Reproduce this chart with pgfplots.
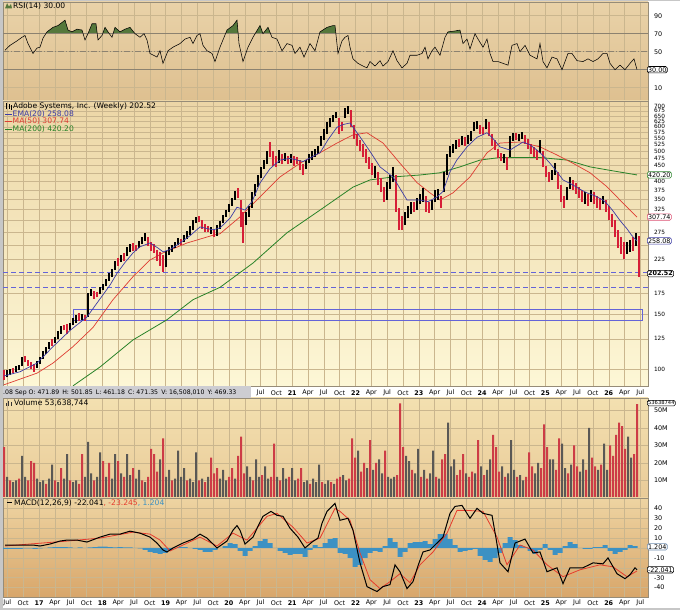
\documentclass[border=0pt]{standalone}
\usepackage{pgfplots}
\pgfplotsset{compat=1.18}
\usepackage{fontspec}
\setmainfont{DejaVu Sans}
\definecolor{gridc}{RGB}{202,182,142}
\definecolor{framec}{RGB}{150,140,120}
\definecolor{pxred}{RGB}{214,30,55}
\definecolor{emac}{RGB}{60,60,165}
\definecolor{ma50c}{RGB}{222,60,50}
\definecolor{ma200c}{RGB}{40,130,40}
\definecolor{lvl}{RGB}{100,100,215}
\definecolor{volred}{RGB}{205,60,70}
\definecolor{volgray}{RGB}{90,88,85}
\definecolor{rsigreen}{RGB}{85,120,60}
\definecolor{histc}{RGB}{60,145,195}
\definecolor{sigc}{RGB}{230,60,45}
\definecolor{infobg}{RGB}{205,205,210}
\definecolor{rsiline}{RGB}{140,130,112}
\definecolor{pinkc}{RGB}{220,80,115}
\newcommand\tlf{\fontsize{6.4}{7}\selectfont}
\newcommand\lgf{\fontsize{7.6}{9}\selectfont}

% ---------- price bars (x = date index, low, high) ----------
\def\pricedata{%
\pR{4}{92}{99}\pK{7}{94}{99}\pK{10}{96}{100}\pR{13}{97}{101}\pK{16}{98}{102}\pK{19}{99}{103}
\pK{22}{102}{109}\pR{25}{105}{110}\pR{28}{102}{107}\pR{31}{100}{105}\pR{34}{98}{104}\pK{37}{101}{106}
\pK{40}{104}{109}\pK{43}{108}{114}\pK{46}{112}{118}\pK{49}{116}{122}\pR{52}{119}{125}\pK{55}{121}{127}
\pK{58}{125}{132}\pK{61}{130}{137}\pR{64}{133}{139}\pR{67}{130}{140}\pK{70}{133}{141}\pK{73}{138}{146}
\pK{76}{141}{149}\pR{79}{143}{151}\pK{82}{144}{150}\pR{85}{143}{149}\pK{88}{147}{176}\pK{91}{172}{181}
\pR{94}{168}{178}\pR{97}{170}{177}\pK{100}{174}{184}\pK{103}{180}{188}\pK{106}{185}{194}\pK{109}{192}{203}
\pK{112}{198}{210}\pK{115}{208}{222}\pR{118}{215}{228}\pK{121}{220}{232}\pR{124}{222}{236}\pK{127}{230}{246}
\pK{130}{238}{252}\pR{133}{240}{254}\pR{136}{240}{250}\pK{139}{245}{258}\pK{142}{252}{266}\pK{145}{258}{274}
\pR{148}{248}{266}\pR{151}{240}{256}\pR{154}{236}{252}\pR{157}{222}{242}\pR{160}{215}{238}\pR{163}{205}{232}
\pK{166}{212}{240}\pK{169}{232}{246}\pK{172}{238}{250}\pK{175}{244}{256}\pK{178}{250}{264}\pR{181}{250}{262}
\pK{184}{256}{270}\pK{187}{262}{277}\pK{190}{270}{288}\pK{193}{280}{300}\pK{196}{295}{308}\pR{199}{296}{310}
\pR{202}{282}{300}\pR{205}{276}{292}\pR{208}{275}{288}\pK{211}{272}{285}\pR{214}{265}{280}\pK{217}{268}{290}
\pK{220}{282}{298}\pK{223}{295}{312}\pK{226}{308}{325}\pK{229}{320}{340}\pK{232}{335}{355}\pK{235}{350}{372}
\pR{238}{355}{381}\pR{241}{285}{350}\pR{243}{254}{320}\pK{246}{290}{320}\pK{249}{308}{335}\pK{252}{330}{370}
\pK{255}{360}{392}\pK{258}{385}{420}\pK{261}{410}{445}\pK{264}{440}{470}\pK{267}{455}{500}\pR{270}{480}{535}
\pR{273}{450}{500}\pR{276}{445}{485}\pK{279}{460}{505}\pR{282}{455}{490}\pK{285}{465}{495}\pR{288}{455}{485}
\pK{291}{460}{490}\pR{294}{450}{485}\pR{297}{455}{480}\pR{300}{435}{470}\pR{303}{420}{455}\pK{306}{440}{470}
\pK{309}{460}{490}\pK{312}{470}{500}\pK{315}{480}{510}\pK{318}{490}{520}\pK{321}{520}{560}\pK{324}{545}{590}
\pK{327}{570}{620}\pK{330}{600}{640}\pK{333}{620}{655}\pK{336}{640}{668}\pR{339}{570}{640}\pR{342}{580}{620}
\pK{345}{640}{690}\pK{348}{660}{700}\pR{351}{600}{680}\pR{354}{550}{610}\pR{357}{520}{570}\pR{360}{500}{545}
\pR{363}{480}{530}\pR{366}{460}{510}\pR{369}{440}{480}\pR{372}{420}{460}\pK{375}{410}{450}\pR{378}{390}{430}
\pR{381}{370}{410}\pR{384}{345}{385}\pK{387}{350}{400}\pK{390}{380}{420}\pK{393}{400}{446}\pR{396}{320}{420}
\pR{399}{280}{330}\pR{402}{280}{310}\pK{405}{290}{320}\pK{408}{305}{335}\pK{411}{315}{345}\pR{414}{320}{345}
\pK{417}{325}{355}\pK{420}{340}{365}\pK{423}{345}{381}\pR{426}{320}{360}\pR{429}{318}{345}\pK{432}{325}{350}
\pK{435}{345}{375}\pK{438}{350}{380}\pR{441}{330}{360}\pK{444}{370}{430}\pK{447}{420}{490}\pK{450}{480}{520}
\pK{453}{495}{530}\pK{456}{510}{545}\pR{459}{515}{550}\pK{462}{525}{560}\pR{465}{520}{555}\pK{468}{530}{565}
\pK{471}{540}{580}\pK{474}{580}{620}\pK{477}{590}{625}\pR{480}{570}{610}\pR{483}{565}{600}\pK{486}{590}{635}
\pR{489}{560}{620}\pR{492}{520}{570}\pR{495}{505}{545}\pR{498}{475}{510}\pR{501}{465}{495}\pK{504}{460}{490}
\pR{507}{436}{480}\pK{510}{480}{560}\pK{513}{540}{575}\pR{516}{545}{572}\pK{519}{540}{570}\pK{522}{550}{578}
\pR{525}{530}{565}\pR{528}{510}{550}\pR{531}{490}{530}\pR{534}{480}{515}\pR{537}{470}{505}\pK{540}{495}{545}
\pR{543}{445}{500}\pR{546}{415}{450}\pR{549}{400}{430}\pK{552}{405}{435}\pK{555}{420}{460}\pR{558}{380}{430}
\pR{561}{345}{390}\pR{564}{330}{360}\pK{567}{350}{385}\pK{570}{380}{415}\pR{573}{375}{405}\pR{576}{365}{395}
\pR{579}{355}{385}\pR{582}{345}{375}\pK{585}{340}{370}\pR{588}{335}{365}\pK{591}{345}{375}\pR{594}{340}{370}
\pR{597}{330}{360}\pR{600}{325}{355}\pK{603}{340}{360}\pR{606}{320}{350}\pR{609}{300}{335}\pR{612}{285}{315}
\pR{615}{265}{300}\pR{618}{245}{280}\pR{621}{235}{265}\pR{624}{225}{255}\pK{627}{235}{255}\pK{630}{238}{260}
\pR{633}{240}{265}\pK{636}{248}{274}\pR{638.5}{198}{268}}

% ---------- weekly volume, millions ----------
\def\voldata{%
\vR{4}{29}\vK{7}{12}\vR{10}{10}\vK{13}{9}\vK{16}{10}\vR{19}{11}\vK{22}{24}\vK{25}{12}\vR{28}{10}\vR{31}{21}
\vR{34}{20}\vK{37}{11}\vK{40}{9}\vK{43}{10}\vR{46}{8}\vK{49}{11}\vK{52}{19}\vR{55}{10}\vK{58}{9}\vR{61}{17}
\vK{64}{11}\vK{67}{25}\vR{70}{10}\vK{73}{9}\vK{76}{10}\vR{79}{8}\vR{82}{25}\vK{85}{12}\vK{88}{32}\vK{91}{14}
\vR{94}{10}\vK{97}{12}\vK{100}{26}\vR{103}{21}\vK{106}{12}\vR{109}{20}\vK{112}{11}\vK{115}{25}\vR{118}{21}\vK{121}{14}
\vR{124}{12}\vK{127}{25}\vK{130}{13}\vR{133}{17}\vK{136}{11}\vK{139}{16}\vR{142}{10}\vK{145}{9}\vR{148}{12}\vR{151}{28}
\vR{154}{25}\vR{157}{15}\vK{160}{22}\vR{163}{34}\vK{166}{12}\vK{169}{16}\vR{172}{10}\vK{175}{11}\vK{178}{27}\vK{181}{12}
\vK{184}{17}\vR{187}{10}\vK{190}{11}\vK{193}{9}\vK{196}{26}\vR{199}{10}\vK{202}{11}\vR{205}{9}\vK{208}{12}\vR{211}{23}
\vR{214}{14}\vR{217}{17}\vK{220}{11}\vK{223}{16}\vK{226}{10}\vR{229}{12}\vR{232}{17}\vK{235}{11}\vR{238}{24}\vR{241}{35}
\vR{244}{14}\vK{247}{18}\vK{250}{12}\vR{253}{10}\vK{256}{22}\vK{259}{12}\vR{262}{13}\vK{265}{18}\vK{268}{11}\vR{271}{12}
\vR{274}{31}\vK{277}{12}\vR{280}{10}\vK{283}{17}\vK{286}{11}\vR{289}{12}\vK{292}{17}\vK{295}{10}\vR{298}{11}\vR{301}{17}
\vK{304}{9}\vK{307}{10}\vR{310}{8}\vK{313}{11}\vK{316}{9}\vK{319}{19}\vR{322}{9}\vK{325}{8}\vK{328}{10}\vR{331}{9}
\vK{334}{8}\vR{337}{11}\vR{340}{12}\vK{343}{13}\vK{346}{10}\vR{349}{11}\vR{352}{34}\vR{355}{23}\vK{358}{27}\vR{361}{15}
\vR{364}{20}\vK{367}{17}\vR{370}{33}\vK{373}{16}\vR{376}{20}\vK{379}{22}\vK{382}{14}\vR{385}{27}\vK{388}{12}\vK{391}{11}
\vK{394}{12}\vR{397}{13}\vR{400}{54}\vR{403}{29}\vK{406}{24}\vK{409}{21}\vR{412}{16}\vK{415}{14}\vK{418}{28}\vR{421}{12}
\vK{424}{16}\vR{427}{11}\vK{430}{14}\vK{433}{27}\vR{436}{12}\vK{439}{11}\vR{442}{22}\vR{445}{25}\vK{448}{43}\vK{451}{18}
\vK{454}{22}\vR{457}{13}\vR{460}{16}\vR{463}{25}\vK{466}{14}\vR{469}{12}\vR{472}{15}\vK{475}{14}\vR{478}{33}\vK{481}{18}
\vR{484}{13}\vK{487}{16}\vK{490}{22}\vR{493}{36}\vR{496}{29}\vR{499}{15}\vK{502}{18}\vR{505}{12}\vK{508}{14}\vK{511}{33}
\vK{514}{16}\vR{517}{12}\vK{520}{13}\vK{523}{10}\vR{526}{12}\vR{529}{26}\vR{532}{18}\vK{535}{14}\vK{538}{20}\vR{541}{17}
\vR{544}{42}\vR{547}{29}\vK{550}{22}\vK{553}{22}\vR{556}{16}\vR{559}{34}\vK{562}{31}\vK{565}{17}\vR{568}{14}\vK{571}{19}
\vR{574}{30}\vR{577}{18}\vK{580}{15}\vK{583}{22}\vR{586}{16}\vK{589}{40}\vR{592}{23}\vR{595}{18}\vK{598}{16}\vR{601}{19}
\vK{604}{31}\vK{607}{16}\vR{610}{30}\vR{613}{24}\vR{616}{36}\vR{619}{43}\vR{622}{41}\vR{625}{28}\vK{628}{35}\vK{631}{23}
\vR{634}{25}\vR{637}{53.6}}
\def\vK#1#2{(#1,#2)}\def\vR#1#2{}
\edef\grayvol{\voldata}
\def\vK#1#2{}\def\vR#1#2{(#1,#2)}
\edef\redvol{\voldata}

% ---------- weekly RSI(14) ----------
\def\rsidata{(5,51.5)(10,57)(17,62)(22,66)(25,68)(28,59)(33,48)(37,54)(40,55)(43,65)(47,72)(53,77)(58,79)(65,85)(68,74)(72,72)(77,75)(82,74)(85,63)(88,70)(92,81)(96,81)(98,63)(102,68)(105,77)(108,72)(112,66)(115,77)(120,72)(125,75)(130,77)(135,70)(140,66)(144,70)(147,63)(150,48)(157,44)(160,51)(163,37)(168,51)(173,55)(180,59)(185,64)(190,66)(193,59)(197,68)(200,70)(203,57)(207,51)(212,48)(215,39)(220,55)(227,74)(233,79)(237,85)(239,59)(243,39)(248,55)(253,66)(260,79)(263,70)(268,77)(272,66)(277,64)(282,51)(287,59)(292,57)(295,48)(300,55)(304,44)(310,59)(315,51)(320,72)(327,77)(333,79)(335,79)(338,48)(342,62)(345,66)(348,68)(350,55)(353,42)(358,37)(363,34)(367,32)(370,39)(375,34)(380,40)(383,34)(388,39)(393,51)(397,40)(402,32)(407,37)(410,46)(417,46)(422,48)(425,55)(428,42)(432,51)(435,55)(440,46)(445,66)(448,72)(455,73)(460,74)(463,59)(467,64)(470,53)(475,70)(478,64)(483,55)(487,64)(490,48)(493,39)(498,39)(503,37)(508,35)(512,57)(517,59)(520,50)(525,57)(530,46)(537,42)(540,59)(543,39)(547,32)(552,44)(557,42)(562,30)(568,48)(572,48)(577,40)(583,39)(588,42)(593,39)(598,42)(603,48)(607,48)(610,37)(615,30)(620,35)(625,30)(630,37)(634,42)(637,30)}

\pgfplotsset{
 panel/.style={scale only axis, width=645pt, xmin=3, xmax=648,
   axis line style={draw=framec, line width=0.5pt},
   xtick={7.35,23.18,39,54.83,70.65,86.48,102.3,118.13,133.95,149.78,165.6,181.43,197.25,213.08,228.9,244.73,260.55,276.38,292.2,308.03,323.85,339.68,355.5,371.33,387.15,402.98,418.8,434.63,450.45,466.28,482.1,497.93,513.75,529.58,545.4,561.23,577.05,592.88,608.7,624.53,640.35},
   xticklabels={},
   xmajorgrids, ymajorgrids,
   grid style={gridc, line width=0.4pt},
   major tick length=0pt, xtick pos=bottom, ytick pos=right,
   yticklabel pos=right,
   tick label style={font=\tlf, text=black},
   yticklabel style={anchor=west, xshift=2.5pt},
   /pgf/number format/assume math mode=true,
 },
 months/.style={xticklabels={Jul,Oct,\textbf{17},Apr,Jul,Oct,\textbf{18},Apr,Jul,Oct,\textbf{19},Apr,Jul,Oct,\textbf{20},Apr,Jul,Oct,\textbf{21},Apr,Jul,Oct,\textbf{22},Apr,Jul,Oct,\textbf{23},Apr,Jul,Oct,\textbf{24},Apr,Jul,Oct,\textbf{25},Apr,Jul,Oct,\textbf{26},Apr,Jul}},
 monthsright/.style={xticklabels={,,,,,,,,,,,,,,,,Jul,Oct,\textbf{21},Apr,Jul,Oct,\textbf{22},Apr,Jul,Oct,\textbf{23},Apr,Jul,Oct,\textbf{24},Apr,Jul,Oct,\textbf{25},Apr,Jul,Oct,\textbf{26},Apr,Jul}},
}
\tikzset{vbox/.style={anchor=west, fill=white, rounded corners=1.5pt, inner sep=0.8pt, font=\tlf, line width=0.6pt}}

\begin{document}
\begin{tikzpicture}[x=1pt,y=1pt]
\useasboundingbox (0pt,0pt) rectangle (680pt,610pt);
\fill[white] (0pt,0pt) rectangle (680pt,610pt);
\fill[black!22] (0pt,0pt) rectangle (2.5pt,610pt);
\fill[black!22] (0pt,0pt) rectangle (680pt,2pt);
\fill[black!22] (0pt,608.5pt) rectangle (680pt,610pt);

% ================= RSI =================
\begin{axis}[panel, at={(3pt,509pt)}, anchor=south west, height=99pt,
  ymin=-4.8, ymax=105.2, ytick={10,30,50,70,90}, yticklabels={10,,50,70,90},
  axis background/.style={shade, top color={rgb,255:red,233;green,210;blue,168}, bottom color={rgb,255:red,222;green,192;blue,144}}]
\begin{scope}
\clip (axis cs:3,70) rectangle (axis cs:648,105);
\edef\tmp{\noexpand\addplot[fill=rsigreen, draw=none] coordinates {\rsidata} \noexpand\closedcycle;}\tmp
\end{scope}
\addplot[draw=rsiline, line width=0.7pt] coordinates {(3,70)(648,70)};
\addplot[draw=rsiline, line width=0.7pt] coordinates {(3,30)(648,30)};
\addplot[draw=rsiline, line width=0.6pt, dash pattern=on 6pt off 2pt on 1pt off 2pt] coordinates {(3,50)(648,50)};
\edef\tmp{\noexpand\addplot[black, line width=0.55pt] coordinates {\rsidata};}\tmp
\coordinate (bRSI) at (axis cs:647,30);
\end{axis}

% ================= PRICE (log scale: prices plotted as ln(price)) =================
\begin{axis}[panel, monthsright, at={(3pt,224pt)}, anchor=south west, height=285pt,
  y filter/.expression={ln(y)},
  ymin=4.47961, ymax=6.58755,
  ytick={4.60517,4.82831,5.01064,5.16479,5.29832,5.41610,5.52146,5.61677,5.70378,5.78383,5.85793,5.92693,5.99146,6.05209,6.10925,6.16331,6.21461,6.26340,6.30992,6.35437,6.39693,6.43775,6.47697,6.51471,6.55108},
  yticklabels={100,125,150,175,,225,,275,,325,350,375,400,,450,475,500,525,550,575,600,625,650,675,700},
  yticklabel style={font=\fontsize{5.8}{6}\selectfont},
  xticklabel style={anchor=center, yshift=-7pt},
  axis background/.style={shade, top color={rgb,255:red,236;green,214;blue,166}, bottom color={rgb,255:red,253;green,247;blue,214}}]
\addplot[lvl, line width=0.9pt, dash pattern=on 5pt off 3pt] coordinates {(3,205)(648,205)};
\addplot[lvl, line width=0.9pt, dash pattern=on 5pt off 3pt] coordinates {(3,183.5)(648,183.5)};
\addplot[lvl, line width=0.8pt] coordinates {(73,143)(642,143)(642,155)(73,155)(73,143)};
\addplot[ma200c, line width=0.8pt] coordinates {(73,88.3)(100,101.5)(133,124)(167,144)(193,167)(220,183)(253,219)(287,274)(320,324)(353,384)(370,405)(393,414)(420,420)(440,427)(460,446)(480,469)(500,478)(540,478)(567,469)(590,446)(613,433)(637,420.2)};
\addplot[ma50c, line width=0.7pt] coordinates {(4,89)(37,97)(53,104.5)(73,118)(93,136)(113,167)(133,198)(150,224)(163,236)(187,254)(213,269)(220,272)(240,308)(260,357)(280,414)(300,458)(320,495)(337,532)(353,565)(367,574)(383,532)(400,458)(417,397)(430,368)(440,349)(453,368)(470,414)(487,495)(500,532)(520,536)(540,517)(557,487)(573,458)(590,427)(607,385)(620,349)(637,307.7)};
\def\pK#1#2#3{\addplot[black, line width=2pt, forget plot] coordinates {(#1,#2)(#1,#3)};}
\def\pR#1#2#3{\addplot[pxred, line width=2pt, forget plot] coordinates {(#1,#2)(#1,#3)};}
\pricedata
\addplot[emac, line width=0.7pt] coordinates {(4,95)(20,98)(37,104.5)(53,118)(70,133)(87,147)(100,168)(110,186)(117,203)(125,220)(133,236)(140,247)(150,254)(157,246)(163,238)(170,242)(180,254)(190,268)(200,286)(213,280)(220,284)(230,305)(237,331)(245,324)(252,345)(260,396)(270,440)(280,469)(290,475)(303,464)(320,495)(328,545)(337,598)(343,610)(350,617)(360,557)(370,500)(380,446)(393,414)(400,380)(407,349)(420,349)(428,345)(437,357)(443,372)(450,430)(457,470)(467,517)(477,555)(487,574)(493,550)(500,517)(510,505)(523,536)(530,525)(537,505)(543,485)(550,458)(557,430)(563,405)(573,390)(580,378)(587,368)(595,360)(603,349)(608,337)(613,322)(620,300)(627,282)(632,268)(637,258)};
\coordinate (bM200) at (axis cs:647,6.04073);
\coordinate (bM50) at (axis cs:647,5.72925);
\coordinate (bEMA) at (axis cs:647,5.55327);
\coordinate (bPX) at (axis cs:647,5.31084);
\end{axis}

% ================= VOLUME =================
\begin{axis}[panel, at={(3pt,112pt)}, anchor=south west, height=100pt,
  ymin=0, ymax=57.1, ytick={10,20,30,40,50}, yticklabels={10M,20M,30M,40M,50M},
  axis background/.style={shade, top color={rgb,255:red,243;green,224;blue,176}, bottom color={rgb,255:red,233;green,203;blue,152}}]
\edef\tmp{\noexpand\addplot[ybar, bar width=2pt, fill=volgray, draw=none] coordinates {\grayvol};}\tmp
\edef\tmp{\noexpand\addplot[ybar, bar width=2pt, fill=volred, draw=none] coordinates {\redvol};}\tmp
\coordinate (bVOL) at (axis cs:647,54.2);
\end{axis}

% ================= MACD =================
\begin{axis}[panel, months, at={(3pt,13pt)}, anchor=south west, height=99pt,
  ymin=-49.5, ymax=50.5, ytick={-40,-30,-20,-10,0,10,20,30,40}, yticklabels={-40,-30,,-10,,10,20,30,40},
  xticklabel style={anchor=center, yshift=-6pt},
  axis background/.style={shade, top color={rgb,255:red,238;green,212;blue,162}, bottom color={rgb,255:red,216;green,166;blue,106}}]
\addplot[ybar, bar width=5pt, fill=histc, draw=none] coordinates {
(5,-1)(10,-1)(15,-1)(20,-1)(25,-0.5)(30,-0.5)(35,-1)(40,-0.5)(45,0)(50,0.5)(55,1)(60,1)(65,1)(70,0.5)(75,0)(80,0.5)(85,0)(90,0.5)(95,1)(100,1.5)(105,1.5)(110,1)(115,0.5)(120,1)(125,0.5)(130,0.5)(135,0)(140,-0.5)(145,-2)(150,-4)(155,-5)(160,-6)(165,-5)(170,-2)(175,0)(180,1)(185,1)(190,0)(195,-1)(200,-2)(205,-4)(210,-4)(215,-2)(220,0)(225,2)(230,5)(235,4)(240,-3)(245,-8)(250,-3)(255,2)(260,7)(265,9)(270,5)(275,0)(280,-3)(285,-5)(290,-7)(295,-6)(300,-6)(305,-9)(310,-2)(315,3)(320,1)(325,5)(330,9)(335,10)(340,-5)(345,-6)(350,-10)(355,-19)(360,-17)(365,-10)(370,-5)(375,-3)(380,-4)(385,2)(390,10)(395,6)(400,-9)(405,-4)(410,5)(415,6)(420,6)(425,7)(430,4)(435,9)(440,14)(445,14)(450,9)(455,3)(460,-4)(465,-3)(470,-2)(475,-1)(480,-8)(485,-12)(490,-14)(495,-10)(500,-5)(505,5)(510,11)(515,8)(520,3)(525,1)(530,-3)(535,-6)(540,-2)(545,4)(550,-2)(555,-7)(560,-5)(565,2)(570,6)(575,4)(580,0)(585,-1)(590,-1)(595,1)(600,1)(605,3)(610,-3)(615,-6)(620,-4)(625,-2)(630,3)(635,2)};
\addplot[sigc, line width=0.8pt] coordinates {(5,2)(67,7)(100,10)(133,16)(150,14)(160,8)(170,-3)(183,3)(200,11)(217,2)(233,15)(247,8)(267,32)(277,35)(293,21)(307,5)(320,10)(335,40)(340,37)(350,28)(360,-5)(370,-32)(380,-41)(390,-34)(400,-26)(410,-35)(420,-17)(433,-4)(447,15)(457,38)(467,38)(483,37)(497,11)(507,-17)(520,3)(533,-2)(547,-17)(563,-29)(580,-22)(600,-17)(613,-19)(627,-29)(637,-23.2)};
\addplot[black, line width=1pt] coordinates {(5,3)(20,3)(33,3)(40,2)(50,4)(60,7)(67,8)(77,8)(87,6)(100,11)(110,14)(120,14)(130,17)(140,15)(150,11)(157,5)(163,-2)(167,-4)(173,0)(183,5)(193,9)(200,14)(207,10)(212,5)(217,0)(227,7)(233,18)(237,22.6)(240,18)(245,4)(253,11)(258,22)(263,32)(271,37)(277,33)(283,32)(290,20)(298,11)(305,0)(312,6)(318,10)(322,25)(327,37)(335,45)(340,28)(348,30)(353,18)(360,-15)(367,-39)(377,-44)(383,-39)(390,-37)(395,-17)(400,-24)(407,-41)(413,-34)(418,-18)(423,-4)(430,-2)(437,5)(443,11)(450,35)(455,42)(462,43)(470,30)(477,40)(483,35)(492,33)(496,10)(500,-15)(508,-24)(515,5)(525,9)(533,-5)(540,-4)(547,-24)(557,-20)(563,-36)(570,-20)(583,-20)(593,-15)(603,-16)(608,-10)(617,-26)(625,-31)(630,-27)(635,-20)(637,-22)};
\coordinate (bH) at (axis cs:647,1.204);
\coordinate (bMACD) at (axis cs:647,-22.041);
\end{axis}

% ---------- info bar ----------
\fill[infobg] (2.5pt,212pt) rectangle (251pt,223.5pt);
\node[anchor=west, inner sep=0, font=\fontsize{6.2}{7}\selectfont] at (3pt,217.5pt) {.08 Sep O: 471.89\enspace H: 501.85\enspace L: 461.18\enspace C: 471.35\enspace V: 16,508,010\enspace Y: 469.33};

% ---------- value tags ----------
\node[vbox, draw=black] at (bRSI) {30.00};
\node[vbox, draw=ma200c] at (bM200) {420.20};
\node[vbox, draw=pinkc] at (bM50) {307.74};
\node[vbox, draw=emac] at (bEMA) {258.08};
\node[vbox, draw=black, font=\tlf\bfseries] at (bPX) {202.52};
\node[vbox, draw=black, font=\fontsize{5.2}{6}\selectfont] at (bVOL) {53638744};
\node[vbox, draw={rgb,255:red,110;green,140;blue,175}] at (bH) {1.204};
\node[vbox, draw=black] at (bMACD) {-22.041};

% ---------- panel labels ----------
\fill[rsigreen] (5pt,601.5pt) -- (7pt,606.5pt) -- (9pt,603.5pt) -- (11pt,606pt) -- (12pt,601.5pt) -- cycle;
\node[anchor=west, inner sep=0, font=\lgf] at (13pt,604pt) {RSI(14) 30.00};
\draw[black, line width=0.8pt] (6pt,500.5pt) -- (6pt,506.5pt) (9pt,501pt) -- (9pt,506pt) (11.5pt,500pt) -- (11.5pt,505pt);
\node[anchor=west, inner sep=0, font=\lgf] at (13pt,503.5pt) {Adobe Systems, Inc. (Weekly) 202.52};
\draw[emac, line width=0.9pt] (5pt,496pt) -- (12pt,496pt);
\node[anchor=west, inner sep=0, font=\lgf, text=emac] at (12.5pt,496pt) {EMA(20) 258.08};
\draw[ma50c, line width=0.9pt] (5pt,488.5pt) -- (12pt,488.5pt);
\node[anchor=west, inner sep=0, font=\lgf, text=ma50c] at (12.5pt,488.5pt) {MA(50) 307.74};
\draw[ma200c, line width=0.9pt] (5pt,481pt) -- (12pt,481pt);
\node[anchor=west, inner sep=0, font=\lgf, text=ma200c] at (12.5pt,481pt) {MA(200) 420.20};
\draw[black!80, line width=1pt] (6pt,204pt) -- (6pt,207pt) (8.5pt,204pt) -- (8.5pt,209pt) (11pt,204pt) -- (11pt,208pt);
\node[anchor=west, inner sep=0, font=\lgf] at (14pt,207pt) {Volume 53,638,744};
\draw[black, line width=1pt] (7pt,107pt) -- (12pt,107pt);
\node[anchor=west, inner sep=0, font=\lgf] at (14pt,107pt) {MACD(12,26,9) -22.041\textcolor{sigc}{, -23.245}\textcolor{histc}{, 1.204}};
\end{tikzpicture}
\end{document}
